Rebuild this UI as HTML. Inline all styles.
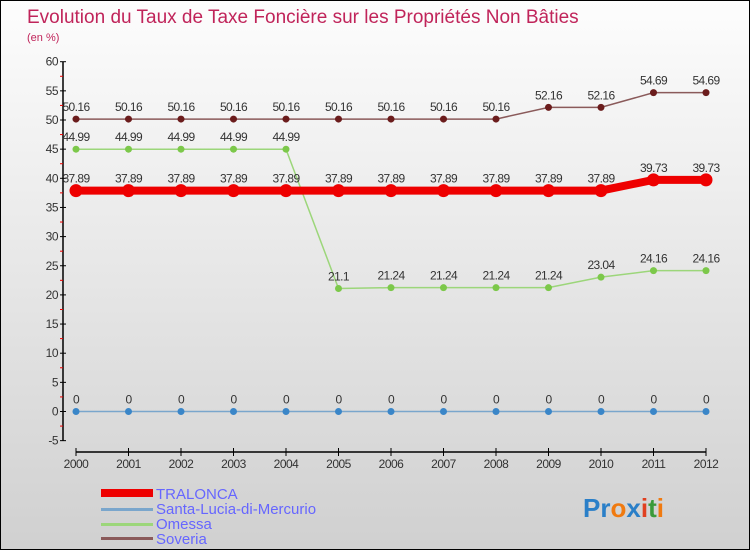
<!DOCTYPE html>
<html><head><meta charset="utf-8"><style>
body{margin:0;}
#wrap{width:748px;height:548px;border:1px solid #000;background:linear-gradient(#fdfdfd,#d0d0d0);position:relative;overflow:hidden;font-family:"Liberation Sans",sans-serif;}
svg text{font-family:"Liberation Sans",sans-serif;}
</style></head><body>
<div id="wrap">
<svg id="chart" width="748" height="548">
<text x="26" y="22" font-size="19" fill="#c0245a">Evolution du Taux de Taxe Foncière sur les Propriétés Non Bâties</text>
<text x="26" y="40" font-size="11" fill="#c0245a">(en %)</text>
<g id="axes"></g><g id="series"></g>
<g>
<rect x="100" y="488" width="52" height="8" fill="#e00"/>
<text x="155" y="498" font-size="15" fill="#66f">TRALONCA</text>
<rect x="100" y="507" width="52" height="3" fill="#7aa6cc"/>
<text x="155" y="513" font-size="15" fill="#66f">Santa-Lucia-di-Mercurio</text>
<rect x="100" y="522" width="52" height="3" fill="#9cd67a"/>
<text x="155" y="528" font-size="15" fill="#66f">Omessa</text>
<rect x="100" y="536" width="52" height="3" fill="#8a5a5a"/>
<text x="155" y="543" font-size="15" fill="#66f">Soveria</text>
</g>
<g font-size="26" font-weight="bold">
<text x="582" y="516"><tspan fill="#2a7fc8">Pr</tspan><tspan fill="#f07a10">o</tspan><tspan fill="#2a7fc8">x</tspan><tspan fill="#e04020">i</tspan><tspan fill="#3a9a3a">t</tspan><tspan fill="#f07a10">i</tspan></text>
</g>
</svg></div>
<script>
const years=[2000,2001,2002,2003,2004,2005,2006,2007,2008,2009,2010,2011,2012];
const yTicks=[-5,0,5,10,15,20,25,30,35,40,45,50,55,60];
const tralonca=[37.89,37.89,37.89,37.89,37.89,37.89,37.89,37.89,37.89,37.89,37.89,39.73,39.73];
const santaLucia=[0,0,0,0,0,0,0,0,0,0,0,0,0];
const omessa=[44.99,44.99,44.99,44.99,44.99,21.1,21.24,21.24,21.24,21.24,23.04,24.16,24.16];
const soveria=[50.16,50.16,50.16,50.16,50.16,50.16,50.16,50.16,50.16,52.16,52.16,54.69,54.69];
const NS='http://www.w3.org/2000/svg';
function X(i){return 75+i*52.5;}
function Y(v){return 410.5-v*5.83;}
function mk(tag,attrs,parent,txt){const e=document.createElementNS(NS,tag);for(const k in attrs)e.setAttribute(k,attrs[k]);if(txt!==undefined)e.textContent=txt;parent.appendChild(e);return e;}
const ax=document.getElementById('axes');
let a=mk('line',{x1:62,y1:Y(60),x2:62,y2:Y(-5),stroke:'#000','stroke-width':1.5},ax);


a=mk('line',{x1:75,y1:451,x2:705,y2:451,stroke:'#000','stroke-width':1.5},ax);


yTicks.forEach(v=>{
 mk('line',{x1:59,y1:Y(v),x2:65,y2:Y(v),stroke:'#000'},ax);
 if(v<60)mk('line',{x1:59,y1:Y(v+2.5),x2:62,y2:Y(v+2.5),stroke:'#e00'},ax);
 const t=mk('text',{x:57,y:Y(v)+4,'font-size':12,fill:'#333','text-anchor':'end','letter-spacing':'-0.5'},ax,String(v));
 
 
});
years.forEach((yr,i)=>{
 mk('line',{x1:X(i),y1:447,x2:X(i),y2:455,stroke:'#000'},ax);
 const t=mk('text',{x:X(i),y:467,'font-size':12,fill:'#333','text-anchor':'middle','letter-spacing':'-0.5'},ax,String(yr));
 
 
});
const sg=document.getElementById('series');
function series(name,vals,color,lw,r,dot){
 const g=mk('g',{},sg);
 
 
 const p=mk('polyline',{points:vals.map((v,i)=>X(i)+','+Y(v)).join(' '),fill:'none',stroke:color,'stroke-width':lw},g);
 
 
 vals.forEach((v,i)=>{
  const c=mk('circle',{cx:X(i),cy:Y(v),r:r,fill:dot},g);
  
  
  const t=mk('text',{x:X(i),y:Y(v)-8,'font-size':12,fill:'#333','text-anchor':'middle','letter-spacing':'-0.6'},g,String(v));
  
  
 });
}
series('soveria',soveria,'#8a5a5a',1.5,3.5,'#6b1c1c');
series('omessa',omessa,'#9cd67a',1.5,3.5,'#7cc84a');
series('santa-lucia',santaLucia,'#7aa6cc',1.5,3.5,'#3a86c8');
series('tralonca',tralonca,'#e00',8,6.5,'#e00');
</script>
</body></html>
